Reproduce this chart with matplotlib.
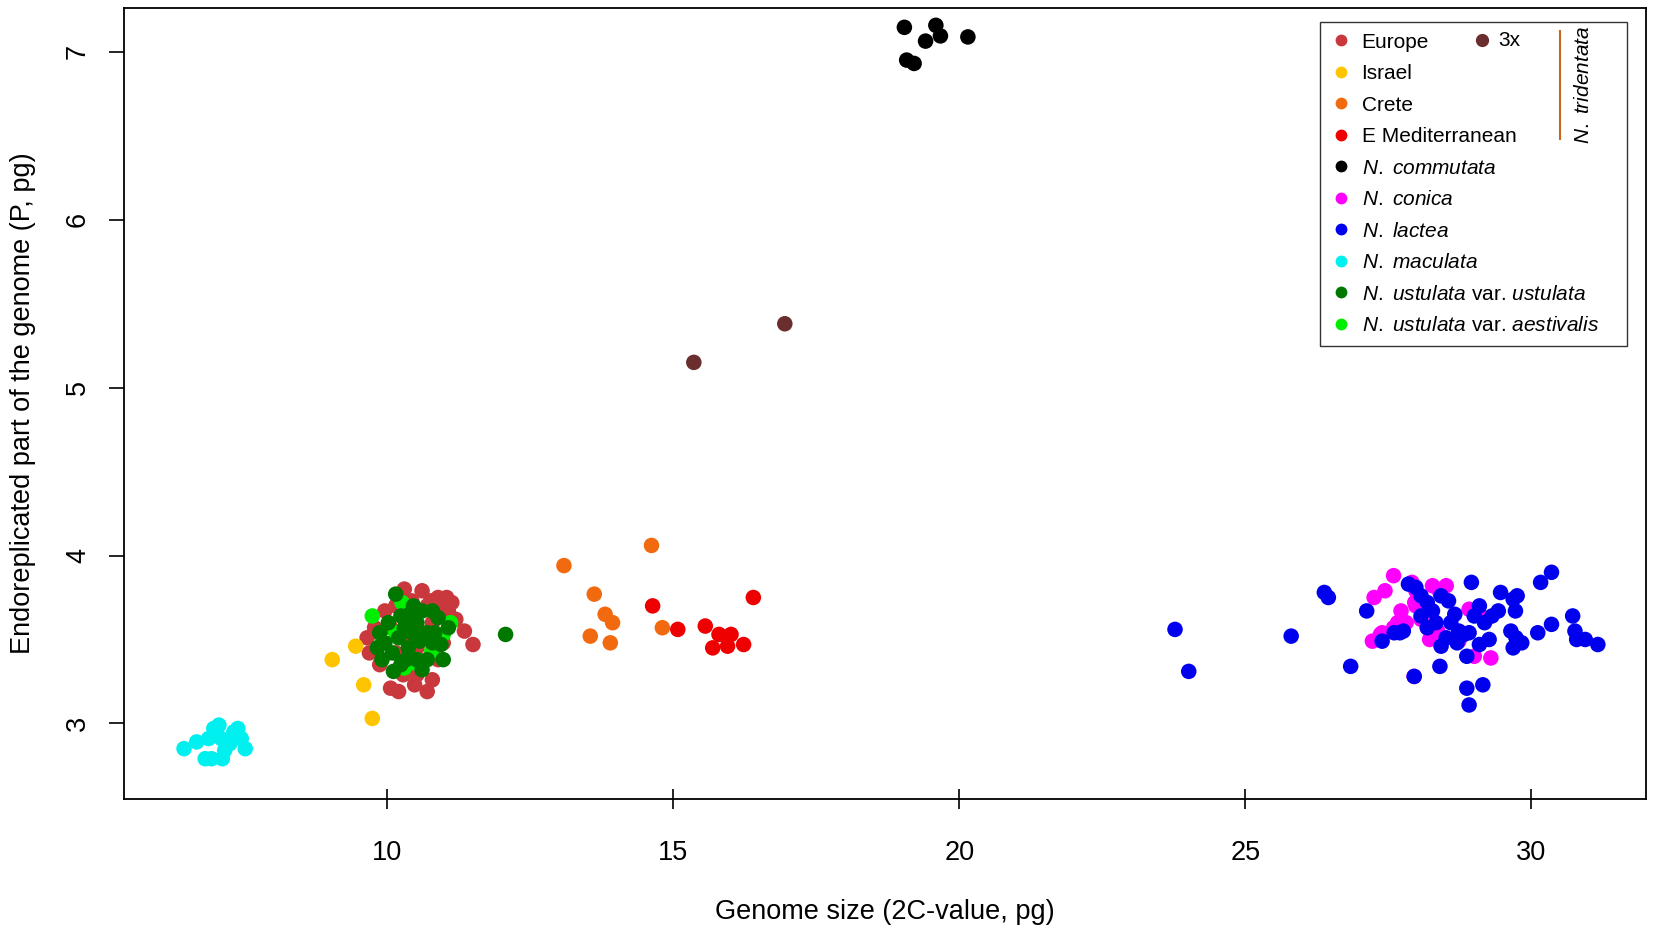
import numpy as np
import matplotlib.pyplot as plt
from matplotlib.lines import Line2D

plt.rcParams['font.family'] = ['Liberation Sans', 'DejaVu Sans']
plt.rcParams['mathtext.fontset'] = 'custom'
plt.rcParams['mathtext.it'] = 'Liberation Sans:italic'
plt.rcParams['mathtext.rm'] = 'Liberation Sans'

# genome size (x) and endoreplicated part (y) per group
europe_x = [11.50, 11.35, 11.20, 11.04, 10.89, 10.61, 10.30, 10.06, 10.20, 10.48, 10.70, 10.79,
            10.52, 10.28, 9.69, 9.65, 9.78, 9.87, 10.89, 10.98, 11.07, 10.70, 10.43, 10.15,
            9.96, 10.61, 10.33, 10.79, 10.52, 10.15, 10.06, 10.76, 10.94, 11.13]
europe_y = [3.47, 3.55, 3.62, 3.75, 3.75, 3.79, 3.80, 3.21, 3.19, 3.23, 3.19, 3.26,
            3.29, 3.29, 3.42, 3.51, 3.57, 3.35, 3.38, 3.48, 3.67, 3.70, 3.73, 3.70,
            3.67, 3.54, 3.51, 3.60, 3.45, 3.42, 3.57, 3.73, 3.70, 3.72]

israel_x = [9.04, 9.45, 9.59, 9.74]
israel_y = [3.38, 3.46, 3.23, 3.03]

crete_x = [13.09, 14.62, 13.62, 13.81, 13.94, 13.55, 13.90, 14.81]
crete_y = [3.94, 4.06, 3.77, 3.65, 3.60, 3.52, 3.48, 3.57]

emed_x = [14.64, 15.08, 15.56, 15.80, 16.01, 15.69, 15.95, 16.23, 16.40]
emed_y = [3.70, 3.56, 3.58, 3.53, 3.53, 3.45, 3.46, 3.47, 3.75]

triploid_x = [15.36, 16.95]
triploid_y = [5.15, 5.38]

commutata_x = [19.04, 19.59, 19.41, 19.67, 20.15, 19.08, 19.21]
commutata_y = [7.145, 7.157, 7.063, 7.094, 7.088, 6.95, 6.93]

conica_x = [27.25, 27.59, 27.44, 27.22, 27.36, 27.59, 27.72, 27.66, 27.96, 27.91, 27.98, 28.18,
            28.22, 27.95, 28.27, 28.40, 28.51, 27.98, 28.91, 28.77, 29.00, 29.29, 28.73, 29.09,
            28.07, 27.81, 28.36, 27.39]
conica_y = [3.75, 3.88, 3.79, 3.49, 3.53, 3.57, 3.67, 3.60, 3.72, 3.84, 3.70, 3.57,
            3.50, 3.28, 3.82, 3.78, 3.82, 3.79, 3.68, 3.54, 3.40, 3.39, 3.49, 3.65,
            3.62, 3.60, 3.55, 3.54]

lactea_x = [23.77, 24.01, 25.80, 26.38, 26.45, 26.84, 27.12, 27.39, 27.76, 27.70, 27.85, 27.98,
            28.07, 27.95, 28.18, 28.27, 28.33, 28.42, 28.55, 28.59, 28.66, 28.73, 28.42, 28.40,
            28.51, 28.82, 28.95, 29.00, 29.09, 28.87, 29.09, 29.18, 29.31, 29.42, 29.46, 29.68,
            29.75, 29.72, 29.64, 29.73, 29.68, 29.83, 30.16, 30.35, 30.11, 30.35, 30.72, 30.76,
            30.79, 30.94, 31.16, 28.91, 28.87, 29.15, 27.60, 28.07, 28.91, 28.18, 28.70, 29.26]
lactea_y = [3.56, 3.31, 3.52, 3.78, 3.75, 3.34, 3.67, 3.49, 3.55, 3.54, 3.83, 3.81,
            3.76, 3.28, 3.72, 3.67, 3.60, 3.76, 3.73, 3.60, 3.65, 3.55, 3.46, 3.34,
            3.51, 3.53, 3.84, 3.64, 3.70, 3.40, 3.47, 3.60, 3.64, 3.67, 3.78, 3.74,
            3.76, 3.67, 3.55, 3.51, 3.45, 3.48, 3.84, 3.90, 3.54, 3.59, 3.64, 3.55,
            3.50, 3.50, 3.47, 3.11, 3.21, 3.23, 3.54, 3.64, 3.54, 3.57, 3.48, 3.50]

maculata_x = [6.45, 6.67, 6.82, 6.97, 7.06, 7.10, 7.16, 7.25, 7.32, 7.39, 7.45, 7.52, 6.93, 7.12, 6.88]
maculata_y = [2.85, 2.89, 2.79, 2.97, 2.99, 2.91, 2.84, 2.88, 2.95, 2.97, 2.91, 2.85, 2.79, 2.79, 2.91]

ustulata_x = [10.15, 12.07, 10.79, 10.89, 9.87, 9.96, 10.09, 10.24, 10.11, 10.61, 10.70, 10.94,
              11.07, 10.98, 10.43, 10.52, 10.30, 10.57, 10.37, 10.70, 10.20, 10.02, 10.39, 10.61,
              9.83, 9.91, 10.79, 10.46, 10.24, 10.83, 10.52, 10.33]
ustulata_y = [3.77, 3.53, 3.67, 3.63, 3.54, 3.48, 3.42, 3.35, 3.31, 3.32, 3.38, 3.47,
              3.57, 3.38, 3.54, 3.60, 3.57, 3.49, 3.45, 3.54, 3.51, 3.60, 3.65, 3.67,
              3.45, 3.38, 3.48, 3.70, 3.64, 3.54, 3.38, 3.38]

aestivalis_x = [9.74, 10.26, 10.35, 11.11, 10.30, 10.48, 10.78, 10.98, 10.15, 9.91]
aestivalis_y = [3.64, 3.72, 3.68, 3.60, 3.33, 3.36, 3.43, 3.53, 3.54, 3.48]

groups = [
    ('Europe', europe_x, europe_y, '#c8383c'),
    ('Israel', israel_x, israel_y, '#ffc400'),
    ('Crete', crete_x, crete_y, '#f26a10'),
    ('E Mediterranean', emed_x, emed_y, '#ee0000'),
    (r'$\it{N.\ commutata}$', commutata_x, commutata_y, '#000000'),
    (r'$\it{N.\ conica}$', conica_x, conica_y, '#ff00ff'),
    (r'$\it{N.\ lactea}$', lactea_x, lactea_y, '#0000ee'),
    (r'$\it{N.\ maculata}$', maculata_x, maculata_y, '#00f0f0'),
    (r'$\it{N.\ ustulata}$ var. $\it{ustulata}$', ustulata_x, ustulata_y, '#007800'),
    (r'$\it{N.\ ustulata}$ var. $\it{aestivalis}$    ', aestivalis_x, aestivalis_y, '#00ee00'),
]
triploid_color = '#6b2e2e'

fig = plt.figure(figsize=(16.55, 9.33), dpi=100)
ax = fig.add_axes([0.0749, 0.1436, 0.9196, 0.8478])

# light green drawn before dark green, as in the original
draw_order = [0, 1, 2, 3, 4, 5, 6, 7, 9, 8]
for i in draw_order:
    name, xs, ys, col = groups[i]
    ax.scatter(xs, ys, s=125, color=col, edgecolors='none', zorder=3)
ax.scatter(triploid_x, triploid_y, s=125, color=triploid_color, edgecolors='none', zorder=3)

ax.set_xlim(5.4, 32.0)
ax.set_ylim(2.55, 7.26)
ax.set_xticks([10, 15, 20, 25, 30])
ax.set_yticks([3, 4, 5, 6, 7])
ax.tick_params(axis='x', direction='inout', length=14.4, width=1.2, labelsize=19.5, pad=22)
ax.tick_params(axis='y', direction='out', length=10.8, width=1.2, labelsize=19.5, pad=13)
for lab in ax.get_yticklabels():
    lab.set_rotation(90)
    lab.set_va('center')
for sp in ax.spines.values():
    sp.set_linewidth(1.3)

ax.set_xlabel('Genome size (2C-value, pg)', fontsize=19.5, labelpad=24)
ax.set_ylabel('Endoreplicated part of the genome (P, pg)', fontsize=19.5, labelpad=21)

handles = [Line2D([], [], marker='o', linestyle='none', markersize=8.5, markerfacecolor=c,
                  markeredgecolor='none') for _, _, _, c in groups]
labels = [g[0] for g in groups]
leg = ax.legend(handles, labels, loc='upper right', bbox_to_anchor=(0.9875, 0.982),
                borderaxespad=0, frameon=True, fancybox=False, edgecolor='black',
                fontsize=15, handletextpad=0.5, labelspacing=0.6, borderpad=0.5,
                handlelength=1.0)
leg.get_frame().set_linewidth(1.0)

# extra entry for triploids and the N. tridentata bracket
ax.plot([0.892], [0.9595], transform=ax.transAxes, marker='o', markersize=8.5,
        color=triploid_color, linestyle='none', zorder=6)
ax.text(0.903, 0.9595, '3x', transform=ax.transAxes, fontsize=15, va='center', zorder=6)
ax.plot([0.9435, 0.9435], [0.834, 0.971], transform=ax.transAxes, color='#c8641e',
        linewidth=1.5, zorder=6)
ax.text(0.959, 0.903, r'$\it{N.\ tridentata}$', transform=ax.transAxes, fontsize=15,
        rotation=90, ha='center', va='center', zorder=6)

fig.savefig('out.png', dpi=100)
